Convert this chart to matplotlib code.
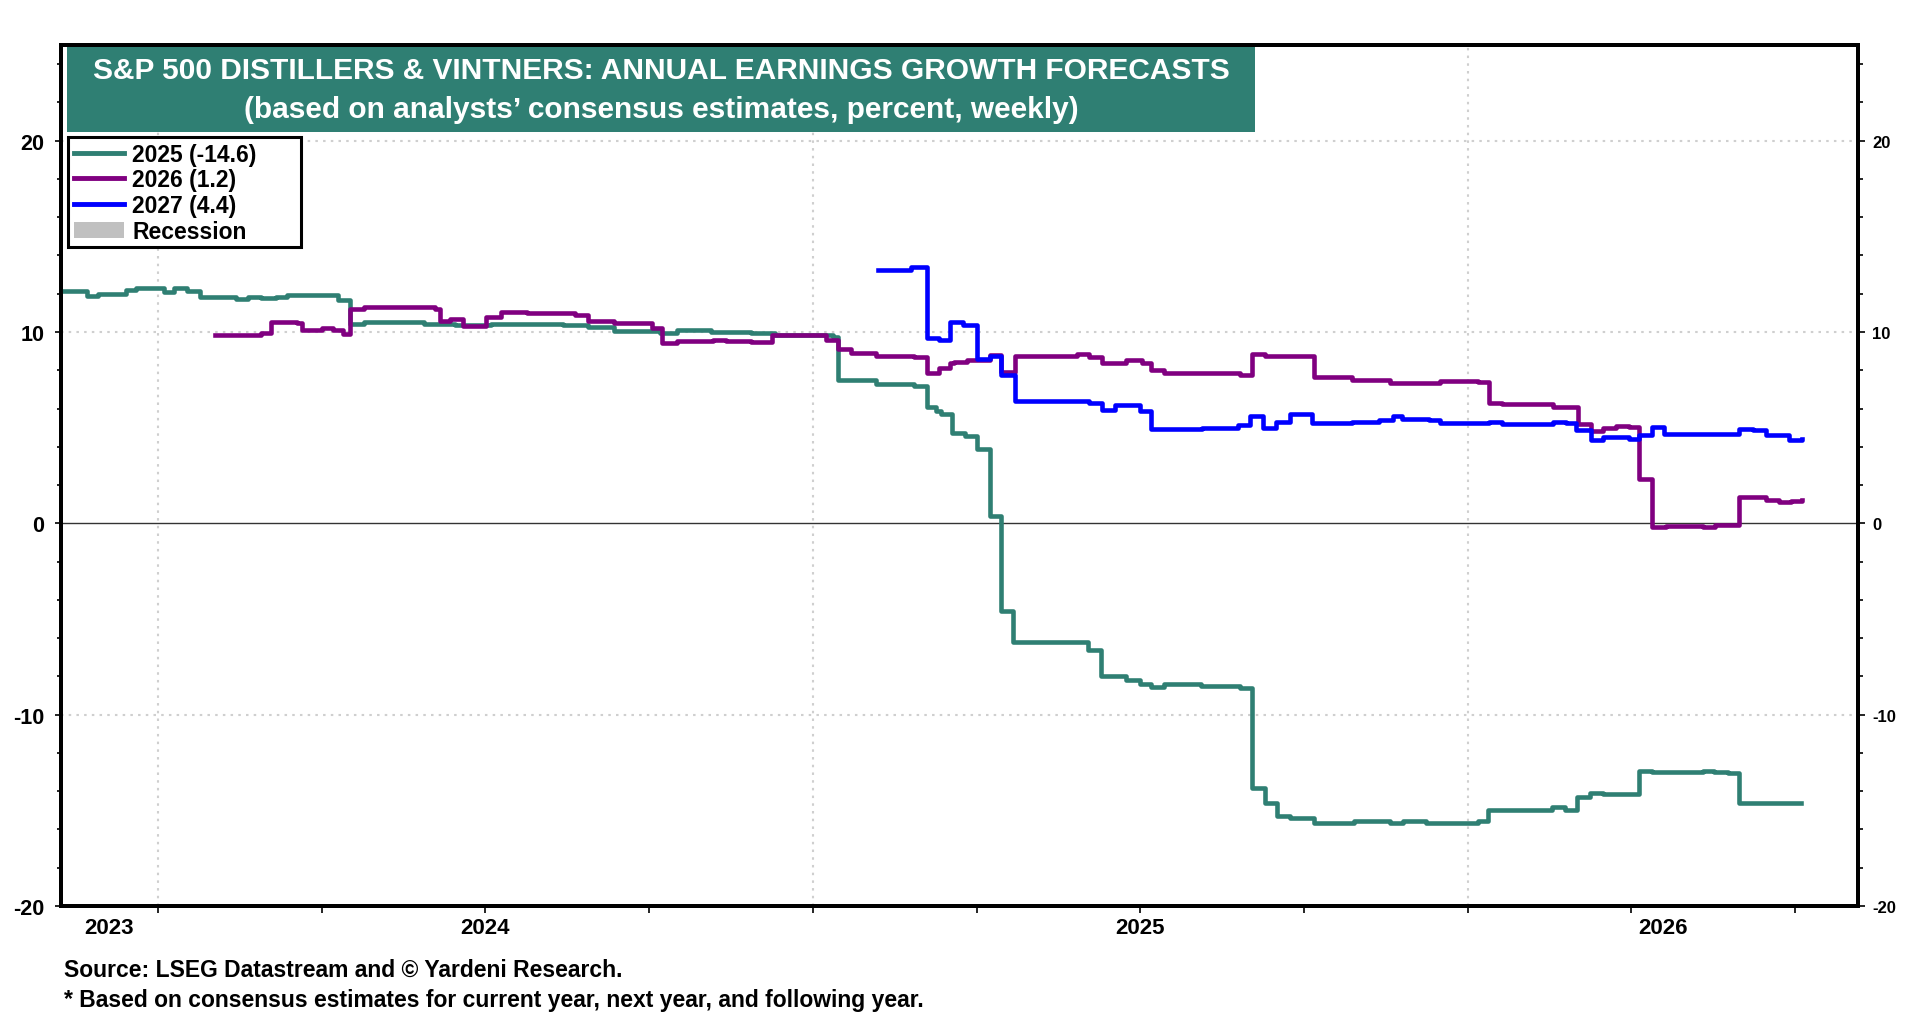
import matplotlib
matplotlib.use('Agg')
import matplotlib.pyplot as plt
from matplotlib.patches import Patch, Rectangle
from matplotlib.lines import Line2D
from matplotlib.ticker import MultipleLocator

plt.rcParams['font.family'] = ['Liberation Sans', 'DejaVu Sans']
plt.rcParams['font.weight'] = 'bold'
plt.rcParams['axes.unicode_minus'] = False

# ---- data (step changes: decimal year where a new level starts, level in %) ----
x_2025 = [2023.852, 2023.892, 2023.908, 2023.951, 2023.966, 2024.009, 2024.025, 2024.044,
          2024.064, 2024.119, 2024.138, 2024.158, 2024.181, 2024.197, 2024.275, 2024.294,
          2024.314, 2024.407, 2024.454, 2024.509, 2024.618, 2024.657, 2024.696, 2024.766,
          2024.793, 2024.844, 2024.906, 2024.942, 2025.031, 2025.038, 2025.096, 2025.154,
          2025.174, 2025.188, 2025.195, 2025.212, 2025.233, 2025.250, 2025.270, 2025.287,
          2025.306, 2025.420, 2025.440, 2025.479, 2025.499, 2025.517, 2025.537, 2025.593,
          2025.652, 2025.670, 2025.690, 2025.709, 2025.729, 2025.765, 2025.826, 2025.881,
          2025.901, 2025.937, 2026.015, 2026.031, 2026.128, 2026.148, 2026.167, 2026.187,
          2026.206, 2026.262, 2026.281, 2026.359, 2026.376, 2026.398, 2026.415, 2026.509]
y_2025 = [12.16, 11.9, 11.98, 12.2, 12.3, 12.1, 12.28, 12.16,
          11.85, 11.7, 11.85, 11.76, 11.85, 11.93, 11.67, 10.4,
          10.5, 10.43, 10.35, 10.43, 10.35, 10.26, 10.05, 9.95,
          10.1, 10.0, 9.95, 9.83, 9.74, 7.49, 7.28, 7.2,
          6.1, 5.85, 5.7, 4.72, 4.55, 3.9, 0.37, -4.6,
          -6.2, -6.64, -7.98, -8.2, -8.42, -8.54, -8.42, -8.5,
          -8.6, -13.85, -14.6, -15.3, -15.38, -15.64, -15.56, -15.64,
          -15.56, -15.64, -15.56, -14.98, -14.84, -14.98, -14.32, -14.11,
          -14.17, -12.95, -13.02, -12.95, -13.02, -13.07, -14.6, -14.6]

x_2026 = [2024.087, 2024.158, 2024.173, 2024.212, 2024.220, 2024.251, 2024.267, 2024.282,
          2024.294, 2024.314, 2024.423, 2024.431, 2024.446, 2024.466, 2024.501, 2024.524,
          2024.563, 2024.637, 2024.657, 2024.696, 2024.754, 2024.770, 2024.793, 2024.848,
          2024.867, 2024.906, 2024.938, 2025.020, 2025.038, 2025.058, 2025.096, 2025.154,
          2025.174, 2025.192, 2025.209, 2025.215, 2025.236, 2025.270, 2025.287, 2025.308,
          2025.404, 2025.421, 2025.441, 2025.479, 2025.503, 2025.516, 2025.537, 2025.653,
          2025.670, 2025.691, 2025.766, 2025.824, 2025.882, 2025.957, 2026.015, 2026.033,
          2026.053, 2026.130, 2026.168, 2026.188, 2026.206, 2026.226, 2026.247, 2026.262,
          2026.282, 2026.303, 2026.359, 2026.377, 2026.415, 2026.455, 2026.476, 2026.494,
          2026.511]
y_2026 = [9.83, 9.95, 10.5, 10.45, 10.1, 10.2, 10.1, 9.9,
          11.2, 11.33, 11.2, 10.6, 10.66, 10.3, 10.8, 11.03,
          11.0, 10.9, 10.6, 10.47, 10.22, 9.4, 9.53, 9.6,
          9.53, 9.48, 9.83, 9.57, 9.1, 8.9, 8.74, 8.67,
          7.87, 8.13, 8.4, 8.44, 8.53, 8.79, 7.92, 8.75,
          8.87, 8.7, 8.4, 8.53, 8.36, 8.0, 7.84, 7.75,
          8.87, 8.77, 7.66, 7.49, 7.35, 7.46, 7.37, 6.31,
          6.23, 6.1, 5.2, 4.81, 4.98, 5.07, 5.02, 2.3,
          -0.17, -0.12, -0.17, -0.09, 1.4, 1.21, 1.12, 1.18,
          1.2]

x_2027 = [2025.099, 2025.150, 2025.174, 2025.192, 2025.209, 2025.229, 2025.250, 2025.270,
          2025.287, 2025.308, 2025.421, 2025.441, 2025.462, 2025.499, 2025.516, 2025.595,
          2025.650, 2025.667, 2025.687, 2025.708, 2025.728, 2025.763, 2025.824, 2025.865,
          2025.886, 2025.899, 2025.941, 2025.958, 2026.033, 2026.053, 2026.130, 2026.150,
          2026.165, 2026.188, 2026.206, 2026.247, 2026.262, 2026.282, 2026.300, 2026.415,
          2026.435, 2026.455, 2026.491, 2026.511]
y_2027 = [13.24, 13.4, 9.7, 9.6, 10.5, 10.35, 8.6, 8.74,
          7.75, 6.4, 6.28, 5.93, 6.19, 5.85, 4.93, 5.0,
          5.16, 5.62, 4.98, 5.3, 5.73, 5.24, 5.3, 5.38,
          5.59, 5.47, 5.38, 5.24, 5.31, 5.2, 5.31, 5.24,
          4.88, 4.38, 4.5, 4.41, 4.64, 5.02, 4.69, 4.95,
          4.86, 4.64, 4.33, 4.4]

series_labels = ['2025 (-14.6)', '2026 (1.2)', '2027 (4.4)']
year_labels = ['2023', '2024', '2025', '2026']
title_1 = 'S&P 500 DISTILLERS & VINTNERS: ANNUAL EARNINGS GROWTH FORECASTS'
title_2 = '(based on analysts\u2019 consensus estimates, percent, weekly)'
source = 'Source: LSEG Datastream and \u00a9 Yardeni Research.'
note = '* Based on consensus estimates for current year, next year, and following year.'

TEAL = '#2F7F73'
PURPLE = '#800080'
BLUE = '#0000FF'

# ---- figure ----
W, H = 1920, 1020
fig = plt.figure(figsize=(19.2, 10.2), dpi=100)
x0, x1, ytop, ybot = 61, 1858, 46, 907
ax = fig.add_axes([x0 / W, 1 - ybot / H, (x1 - x0) / W, (ybot - ytop) / H])

xmin, xmax = 2023.852, 2026.596
ax.set_xlim(xmin, xmax)
ax.set_ylim(-20, 25)

# grid
for yr in [2024, 2025, 2026]:
    ax.axvline(yr, color='#CFCFCF', lw=1.5, ls=(0, (1.2, 2.5)), zorder=1)
for yv in [20, 10, -10]:
    ax.axhline(yv, color='#CFCFCF', lw=1.5, ls=(0, (1.2, 2.5)), zorder=1)
ax.axhline(0, color='#333333', lw=1.0, zorder=1)

ax.plot(x_2025, y_2025, drawstyle='steps-post', color=TEAL, lw=3.3, zorder=3)
ax.plot(x_2026, y_2026, drawstyle='steps-post', color=PURPLE, lw=3.3, zorder=3)
ax.plot(x_2027, y_2027, drawstyle='steps-post', color=BLUE, lw=3.3, zorder=3)

# spines
for s in ax.spines.values():
    s.set_linewidth(2.8)
    s.set_color('black')

# x ticks: quarters, year labels centered on visible part of each year
ax.xaxis.remove_overlapping_locs = False
quarters = [2024 + 0.25 * i for i in range(11)]
ax.set_xticks(quarters)
ax.set_xticklabels([])
label_pos = [(xmin + 2024) / 2, 2024.5, 2025.5, (2026 + xmax) / 2]
ax.set_xticks(label_pos, minor=True)
ax.set_xticklabels(year_labels, minor=True, fontsize=16, fontweight='bold')
ax.tick_params(axis='x', which='major', direction='out', length=5, width=1.2)
ax.tick_params(axis='x', which='minor', length=0, pad=8)

# y ticks
ax.set_yticks([-20, -10, 0, 10, 20])
ax.yaxis.set_minor_locator(MultipleLocator(2))
ax.tick_params(axis='y', which='major', direction='out', length=4, width=1.2,
               labelsize=15.5, pad=8)
ax.tick_params(axis='y', which='minor', direction='out', length=3, width=1.2)
for lab in ax.get_yticklabels():
    lab.set_fontweight('bold')

ax2 = ax.twinx()
ax2.set_ylim(-20, 25)
ax2.set_yticks([-20, -10, 0, 10, 20])
ax2.yaxis.set_minor_locator(MultipleLocator(2))
ax2.tick_params(axis='y', which='major', direction='out', length=5, width=1.2,
                labelsize=12, pad=5)
ax2.tick_params(axis='y', which='minor', direction='out', length=3.5, width=1.2)
for lab in ax2.get_yticklabels():
    lab.set_fontweight('bold')
for s in ax2.spines.values():
    s.set_linewidth(2.8)

# title box
bx0, bx1, by0, by1 = 67, 1255, 48, 133
fig.patches.append(Rectangle((bx0 / W, 1 - by1 / H), (bx1 - bx0) / W, (by1 - by0) / H,
                             transform=fig.transFigure, facecolor=TEAL, edgecolor='none',
                             zorder=5))
cx = (bx0 + bx1) / 2 / W
fig.text(cx, 1 - 71 / H, title_1, color='white', fontsize=21.5, fontweight='bold',
         ha='center', va='center', zorder=6)
fig.text(cx, 1 - 110 / H, title_2, color='white', fontsize=21.5, fontweight='bold',
         ha='center', va='center', zorder=6)

# legend: frame drawn separately (it is wider than the entries)
lx0, lx1, ly0, ly1 = 68, 301, 138, 248
ax2.add_patch(Rectangle((lx0 / W, 1 - ly1 / H), (lx1 - lx0) / W, (ly1 - ly0) / H,
                        transform=fig.transFigure, facecolor='white', edgecolor='black',
                        lw=2.2, zorder=4, clip_on=False))
handles = [Line2D([], [], color=TEAL, lw=3.5),
           Line2D([], [], color=PURPLE, lw=3.5),
           Line2D([], [], color=BLUE, lw=3.5),
           Patch(facecolor='#C0C0C0', edgecolor='none')]
leg = ax2.legend(handles, series_labels + ['Recession'], loc='upper left',
                 bbox_to_anchor=(68 / W, 1 - 138 / H), bbox_transform=fig.transFigure,
                 frameon=False, borderaxespad=0, borderpad=0.25, labelspacing=0.12,
                 handlelength=2.2, handletextpad=0.35,
                 prop={'size': 16.5, 'weight': 'bold'})
leg.set_zorder(5)

# footnotes
fig.text(64 / W, 1 - 970 / H, source, fontsize=16.5, fontweight='bold', va='center')
fig.text(64 / W, 1 - 1001 / H, note, fontsize=16.5, fontweight='bold', va='center')

plt.savefig('out.png', dpi=100)
